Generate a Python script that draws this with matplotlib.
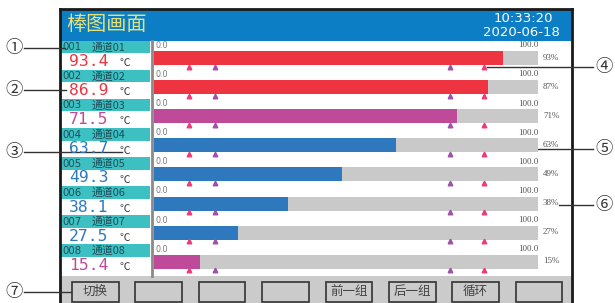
import matplotlib
matplotlib.use("Agg")
import matplotlib.pyplot as plt
from matplotlib.patches import Rectangle

plt.rcParams['font.family'] = ['Noto Sans CJK SC', 'DejaVu Sans']

# ---- data ----
channel_ids = ["001", "002", "003", "004", "005", "006", "007", "008"]
channel_names = ["通道01", "通道02", "通道03", "通道04", "通道05", "通道06", "通道07", "通道08"]
readings = [93.4, 86.9, 71.5, 63.7, 49.3, 38.1, 27.5, 15.4]
bar_fill = [91, 87, 79, 63, 49, 35, 22, 12]          # bar length as drawn on screen (%)
pct_labels = ["93%", "87%", "71%", "63%", "49%", "38%", "27%", "15%"]
range_lo = "0.0"
range_hi = "100.0"
alarm_pink = [9, 86]      # triangle marks
alarm_purple = [16, 77]
state = ["hi", "hi", "warn", "ok", "ok", "ok", "ok", "warn"]
buttons = ["切换", "", "", "", "前一组", "后一组", "循环", ""]
callouts_left = [("①", 48, 65), ("②", 90, 66), ("③", 152, 122), ("⑦", 292, 71)]
callouts_right = [("④", 67, 487), ("⑤", 149, 538), ("⑥", 205, 559)]

colors = {"hi": "#EE3440", "warn": "#C04A9A", "ok": "#2E78BE"}
teal = "#3CC0C2"
blue = "#0B7EC6"
gray = "#C9C9C9"

fig = plt.figure(figsize=(6.15, 3.03), dpi=100)
ax = fig.add_axes([0, 0, 1, 1])
ax.set_xlim(0, 615)
ax.set_ylim(303, 0)
ax.axis("off")

# header
ax.add_patch(Rectangle((60, 9), 512, 31.5, color=blue, lw=0))
ax.text(66, 25, "棒图画面", fontsize=14.5, color="#E6E27A", va="center", ha="left")
ax.text(553, 18, "10:33:20", fontsize=9.5, color="white", va="center", ha="right",
        family="DejaVu Sans")
ax.text(560, 33, "2020-06-18", fontsize=9.5, color="white", va="center", ha="right",
        family="DejaVu Sans")

# left channel panel
top = 40.7
pitch = 29.1
for i in range(8):
    y0 = top + i * pitch
    ax.add_patch(Rectangle((61, y0), 89, 12.5, color=teal, lw=0))
    ax.text(62, y0 + 6.6, channel_ids[i], fontsize=7.3, color="#1E4E5A",
            va="center", ha="left", family="DejaVu Sans")
    ax.text(91.5, y0 + 6.6, channel_names[i], fontsize=7.8, color="#1E4E5A",
            va="center", ha="left")
    ax.text(69, y0 + 20.8, "%.1f" % readings[i], fontsize=11.8, color=colors[state[i]],
            va="center", ha="left", family="DejaVu Sans Mono")
    ax.text(125, y0 + 22.5, "℃", fontsize=7.5, color="#333333", va="center", ha="center")
ax.plot([151.5, 151.5], [40.7, 275.5], color="#8A8A8A", lw=2)

# bottom button bar
ax.add_patch(Rectangle((60, 275.7), 512, 28, color="#CBCBCB", lw=0))
for k, label in enumerate(buttons):
    bx = 72 + k * 63.4
    ax.add_patch(Rectangle((bx, 281.5), 46.5, 20, facecolor="#CBCBCB",
                           edgecolor="#333333", lw=1.2))
    if label:
        ax.text(bx + 23.2, 291.8, label, fontsize=9, color="#444444",
                va="center", ha="center")

# outer frame
ax.plot([59.5, 59.5], [8.5, 303], color="#1A1A1A", lw=2)
ax.plot([572, 572], [8.5, 303], color="#1A1A1A", lw=2)
ax.plot([59.5, 572], [8.5, 8.5], color="#1A1A1A", lw=2)

# callouts
for sym, y, xend in callouts_left:
    ax.text(14, y, sym, fontsize=12.5, color="#333333", va="center", ha="center")
    ax.plot([24, xend], [y, y], color="#333333", lw=1)
for sym, y, xstart in callouts_right:
    ax.text(604, y, sym, fontsize=12.5, color="#333333", va="center", ha="center")
    ax.plot([xstart, 593], [y, y], color="#333333", lw=1)

# bar area, 0..100 scale
bax = fig.add_axes([154 / 615, 1 - 273.6 / 303, 384 / 615, (273.6 - 40.7) / 303])
bax.set_xlim(0, 100)
bax.set_ylim(8, 0)
bax.axis("off")
rows = [i + 0.595 for i in range(8)]
bax.barh(rows, [100] * 8, height=0.48, color=gray, lw=0)
bax.barh(rows, bar_fill, height=0.48, color=[colors[s] for s in state], lw=0)
for i in range(8):
    bax.text(0.3, i + 0.16, range_lo, fontsize=5.8, color="#777777", va="center", ha="left",
             family="DejaVu Sans")
    bax.text(100, i + 0.16, range_hi, fontsize=6.5, color="#555555", va="center", ha="right",
             family="Liberation Serif")
    bax.text(101.3, i + 0.58, pct_labels[i], fontsize=6.5, color="#555555", va="center",
             ha="left", family="Liberation Serif", clip_on=False)
    bax.plot(alarm_pink, [i + 0.89] * 2, ls="none", marker="^", ms=3.3, color="#EE3A7A",
             clip_on=False)
    bax.plot(alarm_purple, [i + 0.89] * 2, ls="none", marker="^", ms=3.3, color="#A050AA",
             clip_on=False)

fig.savefig("out.png", dpi=100)
